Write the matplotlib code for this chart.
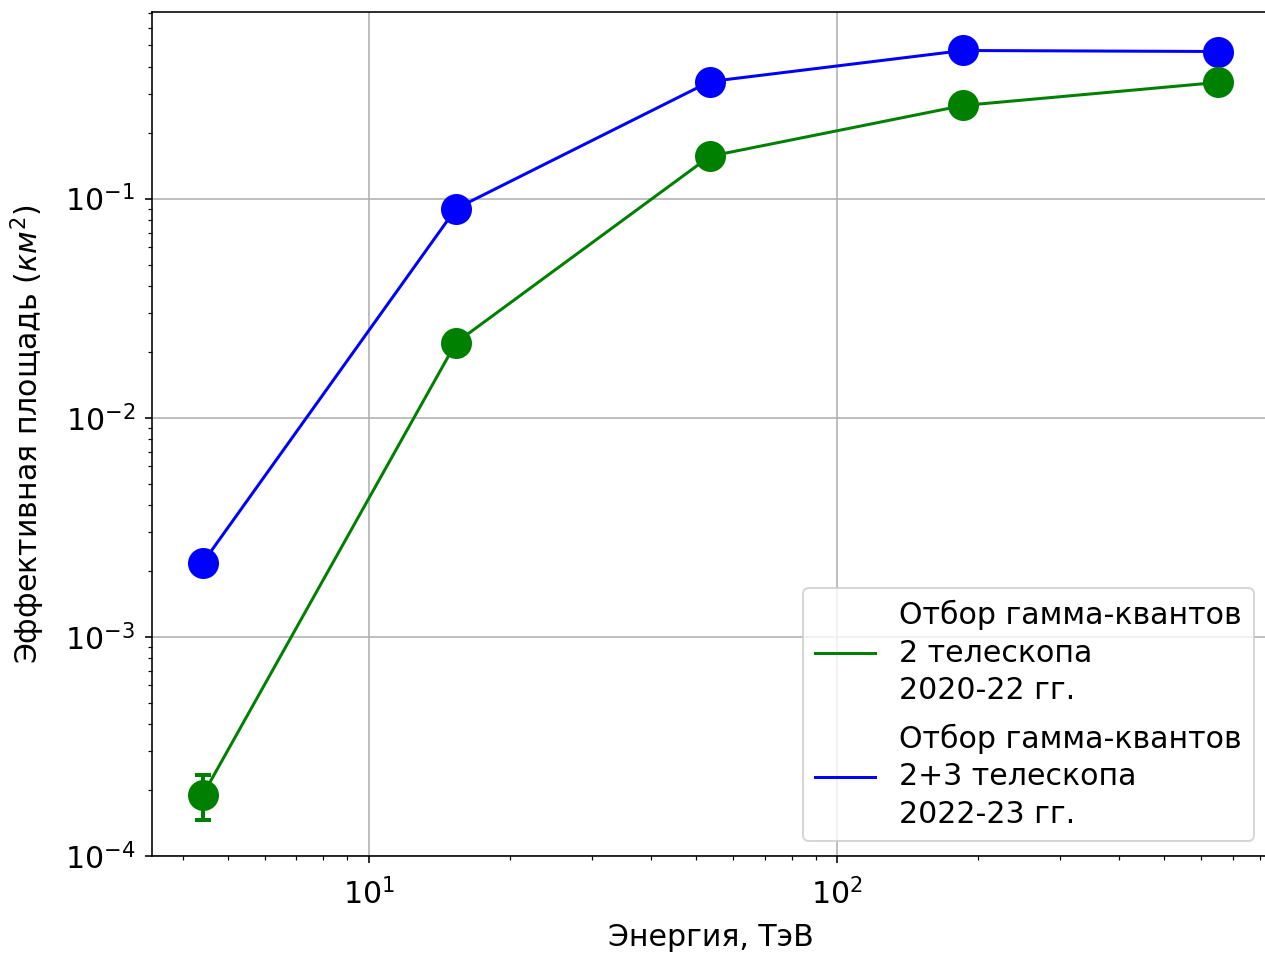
import numpy as np
import matplotlib
matplotlib.use("Agg")
import matplotlib.pyplot as plt


# -----------------------------
# Data
# -----------------------------
energy_tev = [4.42, 15.35, 53.5, 186.0, 652.0]

area_2tel = [1.90e-4, 0.0220, 0.156, 0.266, 0.339]
area_2tel_err = [0.44e-4, 0.0, 0.0, 0.0, 0.0]

area_23tel = [2.18e-3, 0.090, 0.342, 0.474, 0.469]

label_2tel = "Отбор гамма-квантов\n2 телескопа\n2020-22 гг."
label_23tel = "Отбор гамма-квантов\n2+3 телескопа\n2022-23 гг."

TITLE = "Эффективная площадь регистрации гамма-квантов (ТАИГА-IACT)"
XLABEL = "Энергия, ТэВ"
YLABEL = "Эффективная площадь ($км^2$)"


# -----------------------------
# Plot
# -----------------------------
def main():
    plt.rcParams["font.size"] = 15

    fig = plt.figure(figsize=(1265 / 144, 954 / 144), dpi=144)
    ax = fig.add_axes([0.1202, 0.1027, 0.8830, 0.8847])

    ax.plot(energy_tev, area_2tel, color="green", lw=1.5, label=label_2tel)
    ax.errorbar(
        energy_tev, area_2tel, yerr=area_2tel_err,
        fmt="o", color="green", ms=14.5,
        elinewidth=2, capsize=4, capthick=2,
    )

    ax.plot(energy_tev, area_23tel, color="blue", lw=1.5, label=label_23tel)
    ax.plot(energy_tev, area_23tel, "o", color="blue", ms=14.5)

    ax.set_xscale("log")
    ax.set_yscale("log")
    ax.set_ylim(bottom=1e-4)

    ax.tick_params(axis="x", which="major", pad=7.5)
    ax.tick_params(axis="y", which="major", pad=5)

    ax.set_xlabel(XLABEL, labelpad=6)
    ax.set_ylabel(YLABEL, labelpad=9)
    ax.set_title(TITLE, pad=9.5)
    ax.grid(True)

    leg = ax.legend(loc="lower right", labelspacing=0.6)
    for text in leg.get_texts():
        text.set_linespacing(1.38)

    fig.savefig("out.png", dpi=144)
    plt.close(fig)


if __name__ == "__main__":
    main()
